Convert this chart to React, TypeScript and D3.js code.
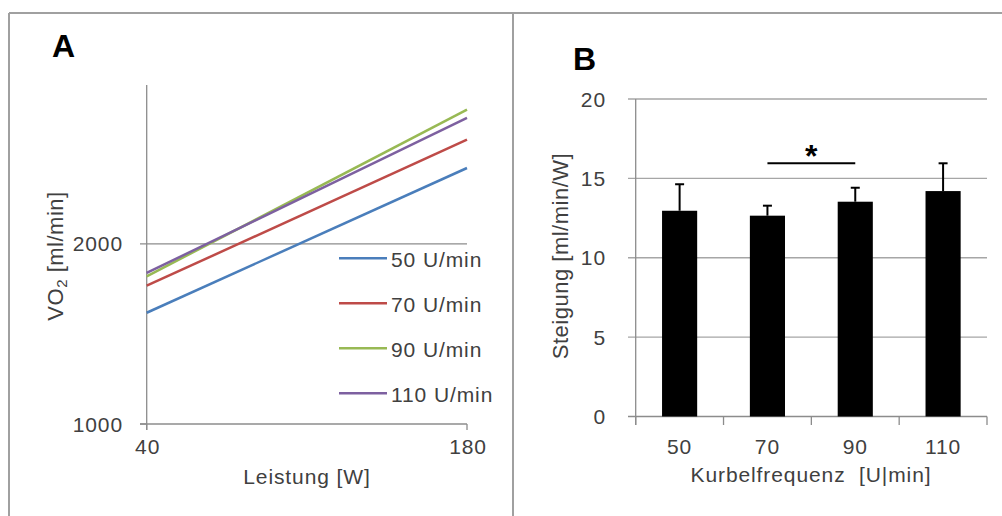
import React from "react";
import * as d3 from "d3";

// ---------- Panel A data ----------
const seriesNames = ["50 U/min", "70 U/min", "90 U/min", "110 U/min"];
const seriesColors = ["#4a7ebb", "#be4b48", "#98b954", "#7d60a0"];
const powerRange = [40, 180];
const vo2AtStart = [1618, 1768, 1820, 1839];
const vo2AtEnd = [2422, 2579, 2746, 2700];
const vo2Ticks = [1000, 2000];
const powerTicks = [40, 180];

// ---------- Panel B data ----------
const cadences = ["50", "70", "90", "110"];
const slopeMeans = [12.96, 12.65, 13.53, 14.2];
const slopeErrors = [1.67, 0.63, 0.88, 1.75];
const slopeTicks = [0, 5, 10, 15, 20];
const sigPair = ["70", "90"];
const sigLevel = 15.95;

const FONT = "'Liberation Sans', Arial, sans-serif";
const AXIS = "#8c8c8c";
const GRID = "#a6a6a6";
const TXT = "#404040";
const FS = 21;
const LS = 0.9;

export default function App() {
  // Panel A scales
  const xA = d3.scaleLinear().domain(powerRange).range([146.7, 467]);
  const yA = d3.scaleLinear().domain([1000, 2883]).range([424, 85]);
  const line = d3
    .line<[number, number]>()
    .x((d) => xA(d[0]))
    .y((d) => yA(d[1]));

  // Panel B scales
  const xB = d3
    .scaleBand<string>()
    .domain(cadences)
    .range([635.7, 987])
    .paddingInner(0.6)
    .paddingOuter(0.3);
  const yB = d3.scaleLinear().domain([0, 20]).range([416.5, 99]);
  const step = xB.step();
  const boundaries = d3.range(cadences.length + 1).map((i) => 635.7 + i * step);
  const cx = (c: string) => (xB(c) as number) + xB.bandwidth() / 2;

  return (
    <svg
      width={1002}
      height={516}
      style={{ position: "absolute", left: 0, top: 0, background: "#fff" }}
      fontFamily={FONT}
    >
      <rect x={0} y={0} width={1002} height={516} fill="#fff" />
      {/* frame */}
      <g stroke="#a0a0a0" strokeWidth={2} fill="none">
        <line x1={9} y1={13} x2={1002} y2={13} />
        <line x1={9} y1={13} x2={9} y2={516} />
        <line x1={513} y1={13} x2={513} y2={516} />
      </g>

      {/* ---------------- Panel A ---------------- */}
      <text x={52} y={57} fontSize={32} fontWeight="bold" fill="#000">
        A
      </text>
      {vo2Ticks.map((t) => (
        <g key={t}>
          <line
            x1={140}
            x2={t === 1000 ? 146.7 : xA(180)}
            y1={yA(t)}
            y2={yA(t)}
            stroke={AXIS}
            strokeWidth={1.3}
          />
          <text
            x={123}
            y={yA(t) + 7.5}
            textAnchor="end"
            fontSize={FS}
            letterSpacing={LS}
            fill={TXT}
          >
            {t}
          </text>
        </g>
      ))}
      {/* axes */}
      <line x1={xA(40)} x2={xA(40)} y1={85} y2={430} stroke={AXIS} strokeWidth={1.3} />
      <line x1={140} x2={xA(180)} y1={yA(1000)} y2={yA(1000)} stroke={AXIS} strokeWidth={1.3} />
      {powerTicks.map((t) => (
        <g key={t}>
          <line x1={xA(t)} x2={xA(t)} y1={424} y2={430} stroke={AXIS} strokeWidth={1.3} />
          <text
            x={xA(t) + 1}
            y={453.5}
            textAnchor="middle"
            fontSize={FS}
            letterSpacing={LS}
            fill={TXT}
          >
            {t}
          </text>
        </g>
      ))}
      {/* lines */}
      {seriesNames.map((n, i) => (
        <path
          key={n}
          d={
            line([
              [powerRange[0], vo2AtStart[i]],
              [powerRange[1], vo2AtEnd[i]],
            ]) as string
          }
          stroke={seriesColors[i]}
          strokeWidth={2.5}
          fill="none"
        />
      ))}
      {/* legend */}
      {seriesNames.map((n, i) => {
        const ly = 258.3 + i * 45;
        return (
          <g key={n}>
            <line x1={339} x2={387} y1={ly} y2={ly} stroke={seriesColors[i]} strokeWidth={2.5} />
            <text x={391} y={ly + 8.2} fontSize={FS} letterSpacing={LS} fill={TXT}>
              {n}
            </text>
          </g>
        );
      })}
      {/* axis titles */}
      <text x={307} y={483.5} textAnchor="middle" fontSize={FS} letterSpacing={LS} fill={TXT}>
        Leistung [W]
      </text>
      <text
        transform="translate(63,256) rotate(-90)"
        textAnchor="middle"
        fontSize={22}
        letterSpacing={0.5}
        fill={TXT}
      >
        VO
        <tspan fontSize={15} dy={4}>
          2
        </tspan>
        <tspan dy={-4}> [ml/min]</tspan>
      </text>

      {/* ---------------- Panel B ---------------- */}
      <text x={573} y={70} fontSize={32} fontWeight="bold" fill="#000">
        B
      </text>
      {slopeTicks.map((t) => (
        <g key={t}>
          <line x1={628} x2={987} y1={yB(t)} y2={yB(t)} stroke={t === 0 ? AXIS : GRID} strokeWidth={1.3} />
          <text
            x={606}
            y={yB(t) + 7.5}
            textAnchor="end"
            fontSize={FS}
            letterSpacing={LS}
            fill={TXT}
          >
            {t}
          </text>
        </g>
      ))}
      <line x1={635.7} x2={635.7} y1={99} y2={425} stroke={AXIS} strokeWidth={1.3} />
      {boundaries.map((b, i) => (
        <line key={i} x1={b} x2={b} y1={416.5} y2={425} stroke={AXIS} strokeWidth={1.3} />
      ))}
      {/* bars */}
      {cadences.map((c, i) => (
        <g key={c}>
          <rect
            x={xB(c)}
            y={yB(slopeMeans[i])}
            width={xB.bandwidth()}
            height={yB(0) - yB(slopeMeans[i])}
            fill="#000"
          />
          <line
            x1={cx(c)}
            x2={cx(c)}
            y1={yB(slopeMeans[i])}
            y2={yB(slopeMeans[i] + slopeErrors[i])}
            stroke="#000"
            strokeWidth={2}
          />
          <line
            x1={cx(c) - 4.5}
            x2={cx(c) + 4.5}
            y1={yB(slopeMeans[i] + slopeErrors[i])}
            y2={yB(slopeMeans[i] + slopeErrors[i])}
            stroke="#000"
            strokeWidth={2}
          />
          <text
            x={cx(c)}
            y={454}
            textAnchor="middle"
            fontSize={FS}
            letterSpacing={LS}
            fill={TXT}
          >
            {c}
          </text>
        </g>
      ))}
      {/* significance */}
      <line
        x1={cx(sigPair[0])}
        x2={cx(sigPair[1])}
        y1={yB(sigLevel)}
        y2={yB(sigLevel)}
        stroke="#000"
        strokeWidth={2}
      />
      <text
        x={(cx(sigPair[0]) + cx(sigPair[1])) / 2}
        y={yB(sigLevel) + 4}
        textAnchor="middle"
        fontSize={32}
        fontWeight="bold"
        fill="#000"
      >
        *
      </text>
      {/* axis titles */}
      <text x={811} y={482} textAnchor="middle" fontSize={FS} letterSpacing={LS} fill={TXT}>
        Kurbelfrequenz{"\u00a0\u00a0"}[U|min]
      </text>
      <text
        transform="translate(568,256) rotate(-90)"
        textAnchor="middle"
        fontSize={22}
        letterSpacing={0.5}
        fill={TXT}
      >
        Steigung{"\u00a0"}[ml/min/W]
      </text>
    </svg>
  );
}
